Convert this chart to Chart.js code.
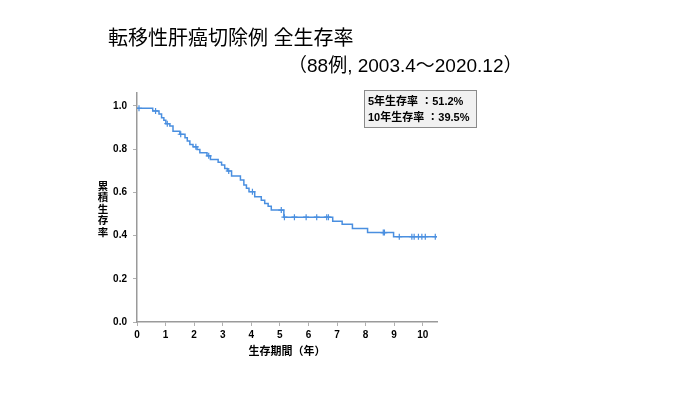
<!DOCTYPE html>
<html>
<head>
<meta charset="utf-8">
<script src="https://cdn.jsdelivr.net/npm/chart.js@4/dist/chart.umd.min.js"></script>
<style>
  html, body { margin: 0; padding: 0; background: #fff; }
  #wrap { width: 700px; height: 394px; }
</style>
</head>
<body>
<div id="wrap"><canvas id="km" width="700" height="394"></canvas></div>
<script>
// Kaplan-Meier steps: time (years) and survival after the drop
var eventTimes = [0, 0.55, 0.77, 0.86, 0.94, 1.01, 1.15, 1.26, 1.50, 1.68, 1.76, 1.85, 1.96, 2.10, 2.20,
                  2.45, 2.57, 2.84, 2.96, 3.07, 3.16, 3.31, 3.62, 3.74, 3.83, 3.92, 4.12, 4.35, 4.47,
                  4.59, 4.70, 5.14, 6.85, 7.18, 7.54, 8.07, 8.98];
var survival = [0.989, 0.977, 0.963, 0.946, 0.934, 0.918, 0.907, 0.883, 0.869, 0.853, 0.838, 0.822, 0.811,
                0.799, 0.784, 0.769, 0.752, 0.740, 0.727, 0.711, 0.699, 0.676, 0.657, 0.634, 0.619, 0.603,
                0.580, 0.563, 0.549, 0.536, 0.518, 0.485, 0.466, 0.452, 0.433, 0.414, 0.395];
var endTime = 10.5;
// censored cases (years)
var censorTimes = [0.07, 0.65, 1.06, 1.53, 2.06, 2.51, 3.21, 4.04, 5.05, 5.16, 5.51, 5.92, 6.29, 6.64,
                   6.70, 8.62, 8.66, 9.18, 9.62, 9.70, 9.85, 9.97, 10.09, 10.44];

var xTicks = [0, 1, 2, 3, 4, 5, 6, 7, 8, 9, 10];
var yTicks = [0, 0.2, 0.4, 0.6, 0.8, 1.0];

var mainTitle = '転移性肝癌切除例 全生存率';
var subTitle = '（88例, 2003.4～2020.12）';
var yTitle = ['累', '積', '生', '存', '率'];
var xTitle = '生存期間（年）';
var boxLines = ['5年生存率 ：51.2%', '10年生存率 ：39.5%'];

var blue = '#4a8fe0';

function survAt(t) {
  var s = survival[0];
  for (var i = 0; i < eventTimes.length; i++) {
    if (eventTimes[i] <= t) s = survival[i];
  }
  return s;
}

var curve = eventTimes.map(function (t, i) { return { x: t, y: survival[i] }; });
curve.push({ x: endTime, y: survival[survival.length - 1] });
var censors = censorTimes.map(function (t) { return { x: t, y: survAt(t) }; });

var latin = '"Liberation Sans", "Noto Sans CJK JP", sans-serif';
var cjk = '"Noto Sans CJK JP", sans-serif';

var textPlugin = {
  id: 'texts',
  afterDraw: function (chart) {
    var c = chart.ctx;
    c.save();
    c.fillStyle = '#000';
    c.textBaseline = 'middle';
    c.textAlign = 'left';
    c.font = '20px ' + latin;
    c.fillText(mainTitle, 108, 39);
    c.font = '19px ' + latin;
    c.fillText(subTitle, 288, 67);

    // y title, stacked
    c.font = 'bold 10.5px ' + cjk;
    c.textAlign = 'center';
    yTitle.forEach(function (ch, i) { c.fillText(ch, 103, 186 + i * 11.5); });
    c.font = 'bold 11px ' + latin;
    c.fillText(xTitle, 287, 352);

    // summary box
    c.fillStyle = '#f1f1f1';
    c.fillRect(364, 90, 113, 38);
    c.strokeStyle = '#8a8a8a';
    c.lineWidth = 1;
    c.strokeRect(364.5, 90.5, 112, 37);
    c.fillStyle = '#000';
    c.textAlign = 'left';
    c.font = 'bold 11px ' + latin;
    c.fillText(boxLines[0], 368, 102);
    c.fillText(boxLines[1], 368, 118);
    c.restore();
  }
};

new Chart(document.getElementById('km'), {
  type: 'line',
  data: {
    datasets: [{
      data: curve,
      stepped: true,
      borderColor: blue,
      borderWidth: 1.5,
      pointRadius: 0,
      fill: false
    }, {
      data: censors,
      showLine: false,
      pointStyle: 'cross',
      pointRadius: 3,
      borderColor: blue,
      pointBorderWidth: 1.2,
      backgroundColor: blue
    }]
  },
  options: {
    responsive: false,
    animation: false,
    devicePixelRatio: 1,
    layout: { padding: { left: 97, right: 263, top: 93, bottom: 42 } },
    plugins: { legend: { display: false }, tooltip: { enabled: false } },
    scales: {
      x: {
        type: 'linear',
        min: 0,
        max: endTime,
        afterBuildTicks: function (s) { s.ticks = xTicks.map(function (v) { return { value: v }; }); },
        afterFit: function (s) { s.height = 30; },
        grid: { drawOnChartArea: false, drawTicks: true, tickLength: 4, color: '#b0b0b0' },
        border: { color: '#9a9a9a', width: 1.5 },
        ticks: { padding: 3, color: '#000', font: { family: latin, size: 10, weight: 'bold' }, maxRotation: 0 }
      },
      y: {
        min: 0,
        max: 1.06,
        afterBuildTicks: function (s) { s.ticks = yTicks.map(function (v) { return { value: v }; }); },
        afterFit: function (s) { s.width = 40; },
        grid: { drawOnChartArea: false, drawTicks: true, tickLength: 4, color: '#b0b0b0' },
        border: { color: '#9a9a9a', width: 1.5 },
        ticks: {
          padding: 6, color: '#000', font: { family: latin, size: 10, weight: 'bold' },
          callback: function (v) { return Number(v).toFixed(1); }
        }
      }
    }
  },
  plugins: [textPlugin]
});
</script>
</body>
</html>
